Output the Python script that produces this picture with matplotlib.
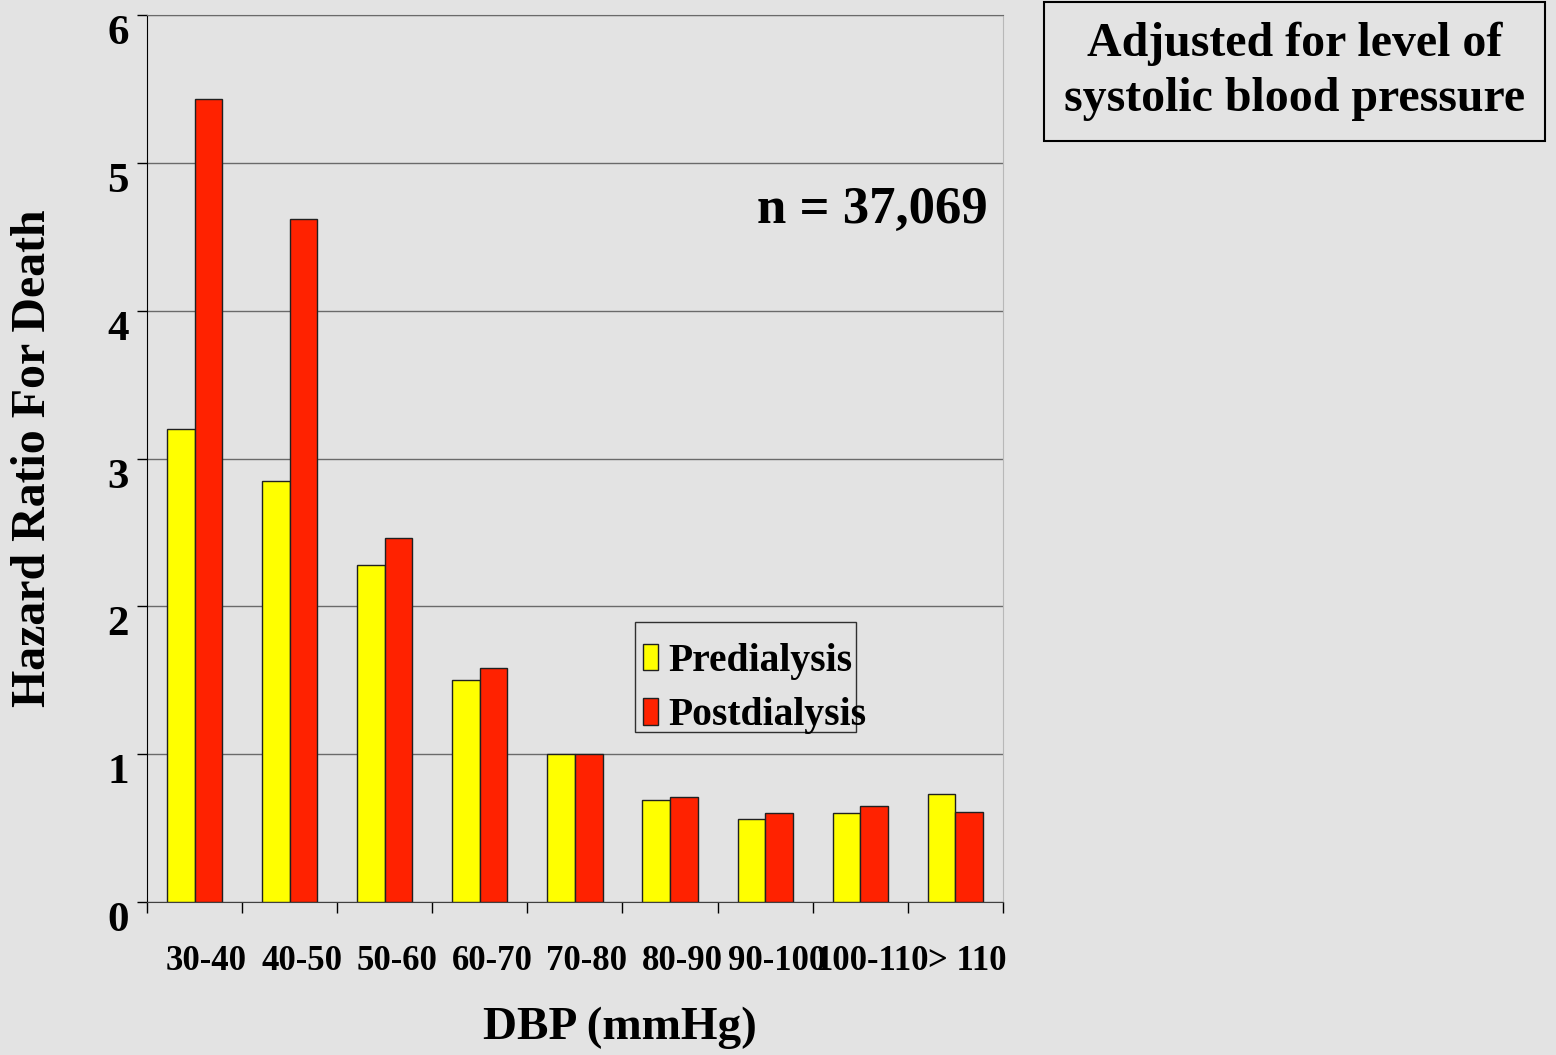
import numpy as np
import matplotlib
matplotlib.use("Agg")
import matplotlib.pyplot as plt
import matplotlib.transforms as mtransforms
from matplotlib.patches import Rectangle

categories = ["30-40", "40-50", "50-60", "60-70", "70-80", "80-90", "90-100", "100-110", "> 110"]
predialysis = [3.20, 2.85, 2.28, 1.50, 1.00, 0.69, 0.56, 0.60, 0.73]
postdialysis = [5.43, 4.62, 2.46, 1.58, 1.00, 0.71, 0.60, 0.65, 0.61]
yticks = [0, 1, 2, 3, 4, 5, 6]

bg = "#e3e3e3"
plt.rcParams["font.family"] = ["Liberation Serif", "DejaVu Serif"]
plt.rcParams["font.weight"] = "bold"

fig = plt.figure(figsize=(15.56, 10.55), dpi=100, facecolor=bg)
ax = fig.add_axes([0.0945, 0.145, 0.550, 0.8408], facecolor=bg)

x = np.arange(len(categories))
w = 0.29
ax.bar(x - w / 2, predialysis, w, color="#ffff00", edgecolor="#202020", linewidth=1, label="Predialysis", zorder=3)
ax.bar(x + w / 2, postdialysis, w, color="#ff2200", edgecolor="#202020", linewidth=1, label="Postdialysis", zorder=3)

ax.set_xlim(-0.5, len(categories) - 0.5)
ax.set_ylim(0, 6)
ax.set_yticks(yticks)
ax.set_yticklabels([str(v) for v in yticks], fontsize=31, fontweight="bold")
for lab in ax.get_yticklabels():
    lab.set_va("top")
ax.tick_params(axis="y", length=7, width=1, pad=6, color="black")

ax.set_xticks(x)
ax.set_xticklabels(categories, fontsize=25, fontweight="bold")
ax.set_xticks(np.arange(len(categories) + 1) - 0.5, minor=True)
ax.tick_params(axis="x", which="major", length=0, pad=31)
ax.tick_params(axis="x", which="minor", length=8, width=1, color="black")
# labels in the original sit a bit right of the group centres
shift = mtransforms.ScaledTranslation(0.12, 0, fig.dpi_scale_trans)
for lab in ax.get_xticklabels():
    lab.set_transform(lab.get_transform() + shift)

ax.yaxis.grid(True, color="#6a6a6a", linewidth=1, zorder=0)
ax.set_axisbelow(True)
ax.spines["left"].set_color("black")
ax.spines["bottom"].set_color("#404040")
ax.spines["right"].set_color("#b8b8b8")
ax.spines["top"].set_color("#6a6a6a")

ax.set_xlabel("DBP (mmHg)", fontsize=34, fontweight="bold", va="center")
ax.xaxis.set_label_coords(0.5526, -0.142)
ax.set_ylabel("Hazard Ratio For Death", fontsize=34.5, fontweight="bold", va="center")
ax.yaxis.set_label_coords(-0.133, 0.5)

ax.text(0.982, 0.78, "n = 37,069", transform=ax.transAxes, ha="right", va="center",
        fontsize=38, fontweight="bold")

# legend box is narrower than its text in the original, so draw the frame separately
ax.add_patch(Rectangle((0.570, 0.1917), 0.258, 0.124, transform=ax.transAxes,
                       facecolor=bg, edgecolor="#303030", linewidth=1, zorder=4))
leg = ax.legend(loc="upper left", bbox_to_anchor=(0.561, 0.310), borderaxespad=0,
                prop={"weight": "bold", "size": 28.5}, frameon=False,
                handlelength=0.38, handleheight=0.65, handletextpad=0.25,
                borderpad=0.4, labelspacing=0.44)
leg.set_zorder(5)

fig.text(0.832, 0.932, "Adjusted for level of\nsystolic blood pressure", ha="center", va="center",
         fontsize=34.5, fontweight="bold", linespacing=1.32,
         bbox=dict(boxstyle="square,pad=0.41", facecolor=bg, edgecolor="black", linewidth=1.5))

fig.savefig("out.png", dpi=100, facecolor=bg)
